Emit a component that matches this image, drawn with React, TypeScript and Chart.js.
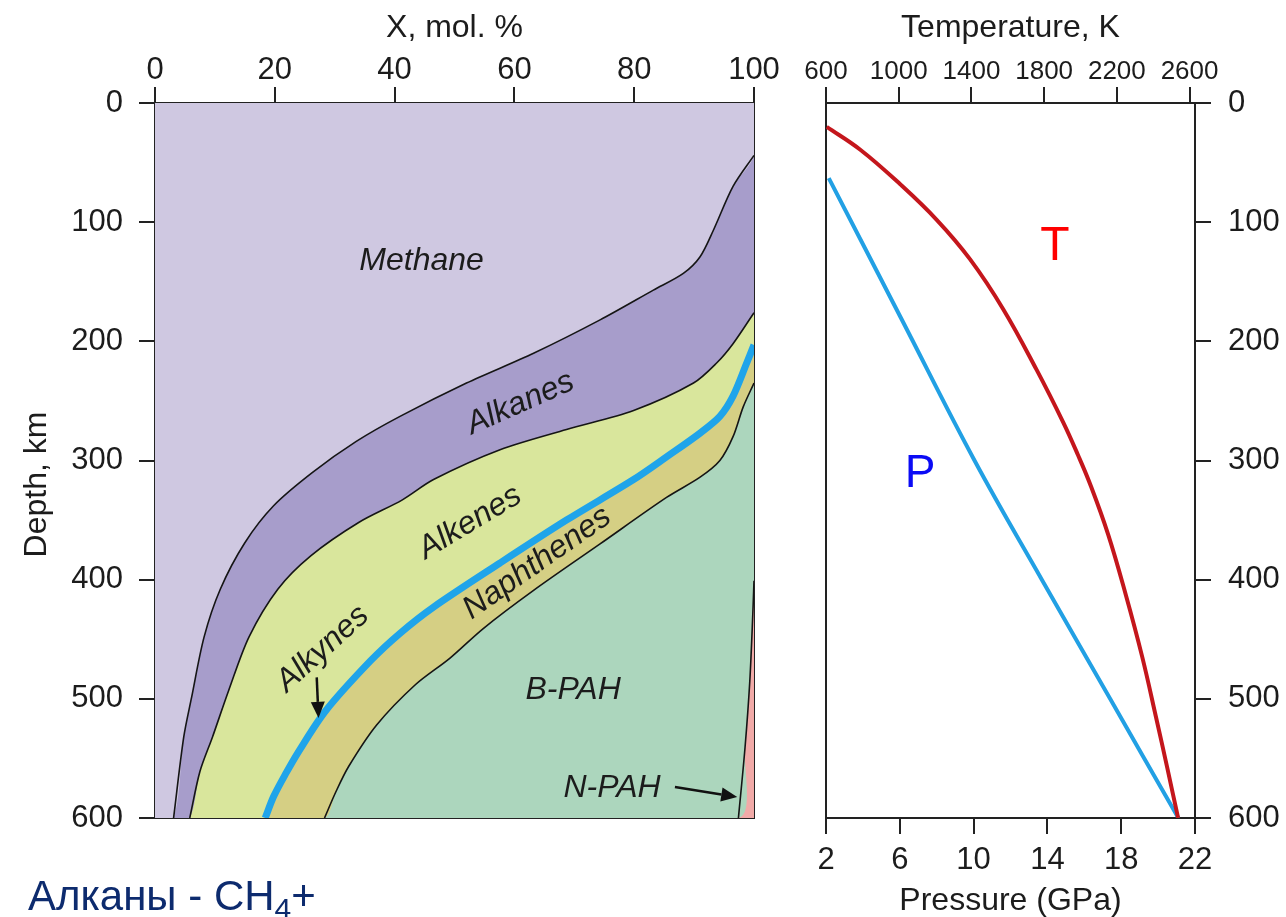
import React, { useEffect, useRef } from "react";
import { Chart, registerables } from "chart.js";

Chart.register(...registerables);

const FONT = '"Liberation Sans", Arial, Helvetica, sans-serif';
const INK = "#1c1c1c";

// ---------------- Left panel: X, mol. % (cumulative) vs depth, km
const molTicks = [0, 20, 40, 60, 80, 100];
const depthTicks = [0, 100, 200, 300, 400, 500, 600];

// boundary Methane | Alkanes
const methaneAlkanesDepth = [44, 70, 107, 129, 143, 157, 182, 210, 235, 263, 284, 310, 338, 369, 408, 448, 499, 532, 600];
const methaneAlkanesX = [100, 96.5, 93.2, 91, 88.2, 83.2, 74.3, 63.2, 52, 40.9, 33.6, 26.3, 19.8, 15, 10.9, 8.2, 6.1, 4.8, 3.1];

// boundary Alkanes | Alkenes
const alkanesAlkenesDepth = [176, 202, 218, 235, 258, 274, 291, 316, 333, 352, 380, 408, 448, 493, 532, 561, 600];
const alkanesAlkenesX = [100, 96.5, 93.8, 89.9, 79.9, 68.7, 57.6, 46.5, 41.3, 34, 26, 20.5, 15.7, 12.3, 9.6, 7.5, 5.8];

// Alkynes (thin band, blue line) between Alkenes and Naphthenes
const alkynesDepth = [203, 218, 246, 263, 277, 297, 316, 350, 386, 423, 445, 468, 510, 544, 563, 582, 600];
const alkynesX = [100, 98.8, 96.5, 94.3, 91, 85.4, 79.9, 68.7, 57.6, 46.5, 40.9, 36, 28.5, 24, 21.8, 19.8, 18.4];

// boundary Naphthenes | B-PAH
const naphthenesBpahDepth = [235, 255, 280, 300, 314, 331, 370, 409, 441, 466, 488, 522, 557, 578, 600];
const naphthenesBpahX = [100, 98.2, 96.5, 94.3, 91, 85.4, 74.3, 63.2, 54.8, 49.2, 43.5, 37, 32.3, 30.2, 28.3];

// boundary B-PAH | N-PAH
const bpahNpahDepth = [401, 429, 485, 541, 600];
const bpahNpahX = [100, 99.8, 99.3, 98.5, 97.4];

const regionColors = {
  methane: "#cfc8e1",
  alkanes: "#a79dcb",
  alkenes: "#d9e69c",
  naphthenes: "#d5cf84",
  bpah: "#acd6bd",
  npah: "#f1aaa8",
};

const regionLabels = [
  { text: "Methane", x: 44.5, d: 133, angle: 0 },
  { text: "Alkanes", x: 61, d: 252, angle: -24 },
  { text: "Alkenes", x: 52.6, d: 352, angle: -31 },
  { text: "Naphthenes", x: 63.8, d: 386, angle: -35 },
  { text: "Alkynes", x: 28, d: 458, angle: -42 },
  { text: "B-PAH", x: 69.8, d: 493, angle: 0 },
  { text: "N-PAH", x: 76.3, d: 575, angle: 0 },
];
const labelArrows = [
  { x1: 27, d1: 482, x2: 27.3, d2: 516 },
  { x1: 86.8, d1: 574, x2: 97.2, d2: 582.4 },
];

// ---------------- Right panel: temperature and pressure vs depth
const temperatureTicks = [600, 1000, 1400, 1800, 2200, 2600];
const pressureTicks = [2, 6, 10, 14, 18, 22];
const temperatureDepth = [20, 39, 68, 98, 131, 173, 224, 268, 295, 321, 362, 412, 465, 515, 559, 600];
const temperatureK = [604, 787, 1007, 1209, 1392, 1575, 1759, 1905, 1985, 2056, 2152, 2248, 2340, 2415, 2479, 2537];
const pressureDepth = [63, 180, 300, 400, 500, 600];
const pressureGPa = [2.15, 6.05, 10.05, 13.7, 17.4, 21.1];

const curveLabels = [
  { text: "T", axis: "xT", v: 1860, d: 121, color: "#ff0000", size: 48 },
  { text: "P", axis: "x", v: 7.1, d: 312, color: "#0b0bf5", size: 46 },
];

// ---------------- helpers
const pts = (xs: number[], ds: number[]) => xs.map((x, i) => ({ x, y: ds[i] }));
const rev = <T,>(a: T[]) => [...a].reverse();

const tickGrid = {
  display: true,
  drawOnChartArea: false,
  drawTicks: true,
  tickLength: 16,
  lineWidth: 2,
  tickWidth: 2,
  tickColor: "#222",
  color: "#222",
};
const frame = { display: true, color: "#222", width: 2 };
const hidden = {
  ticks: { display: false },
  grid: { display: false },
  border: frame,
};
const setTicks = (vals: number[]) => (s: any) => {
  s.ticks = vals.map((v) => ({ value: v }));
};
const plain = (v: any) => String(v);

function drawArrow(ctx: CanvasRenderingContext2D, x1: number, y1: number, x2: number, y2: number) {
  const ang = Math.atan2(y2 - y1, x2 - x1);
  const head = 16;
  const half = 7;
  const bx = x2 - head * Math.cos(ang);
  const by = y2 - head * Math.sin(ang);
  ctx.strokeStyle = "#111";
  ctx.fillStyle = "#111";
  ctx.lineWidth = 2.5;
  ctx.beginPath();
  ctx.moveTo(x1, y1);
  ctx.lineTo(bx, by);
  ctx.stroke();
  ctx.beginPath();
  ctx.moveTo(x2, y2);
  ctx.lineTo(bx + half * Math.sin(ang), by - half * Math.cos(ang));
  ctx.lineTo(bx - half * Math.sin(ang), by + half * Math.cos(ang));
  ctx.closePath();
  ctx.fill();
}

const leftLabelsPlugin = {
  id: "leftLabels",
  afterDatasetsDraw(chart: any) {
    const { ctx, scales } = chart;
    const xs = scales.x;
    const ys = scales.y;
    ctx.save();
    ctx.fillStyle = INK;
    ctx.textAlign = "center";
    ctx.textBaseline = "middle";
    ctx.font = `italic 32px ${FONT}`;
    for (const l of regionLabels) {
      ctx.save();
      ctx.translate(xs.getPixelForValue(l.x), ys.getPixelForValue(l.d));
      ctx.rotate((l.angle * Math.PI) / 180);
      ctx.fillText(l.text, 0, 0);
      ctx.restore();
    }
    for (const a of labelArrows) {
      drawArrow(
        ctx,
        xs.getPixelForValue(a.x1),
        ys.getPixelForValue(a.d1),
        xs.getPixelForValue(a.x2),
        ys.getPixelForValue(a.d2)
      );
    }
    ctx.restore();
  },
};

const rightLabelsPlugin = {
  id: "rightLabels",
  afterDatasetsDraw(chart: any) {
    const { ctx, scales } = chart;
    ctx.save();
    ctx.textAlign = "center";
    ctx.textBaseline = "middle";
    for (const l of curveLabels) {
      ctx.font = `${l.size}px ${FONT}`;
      ctx.fillStyle = l.color;
      ctx.fillText(l.text, scales[l.axis].getPixelForValue(l.v), scales.y.getPixelForValue(l.d));
    }
    ctx.restore();
  },
};

function leftConfig(): any {
  const B1 = pts(methaneAlkanesX, methaneAlkanesDepth);
  const B2 = pts(alkanesAlkenesX, alkanesAlkenesDepth);
  const B3 = pts(alkynesX, alkynesDepth);
  const B4 = pts(naphthenesBpahX, naphthenesBpahDepth);
  const B5 = pts(bpahNpahX, bpahNpahDepth);

  const region = (data: any[], color: string) => ({
    data,
    backgroundColor: color,
    borderWidth: 0,
    fill: "shape",
    pointRadius: 0,
    tension: 0.3,
    order: 10,
  });
  const boundary = (data: any[]) => ({
    data,
    borderColor: "#151515",
    borderWidth: 1.6,
    fill: false,
    pointRadius: 0,
    tension: 0.3,
    order: 5,
  });

  return {
    type: "line",
    data: {
      datasets: [
        region([{ x: 0, y: 0 }, { x: 100, y: 0 }, ...B1, { x: 0, y: 600 }], regionColors.methane),
        region([...B1, ...rev(B2)], regionColors.alkanes),
        region([...B2, ...rev(B3)], regionColors.alkenes),
        region([...B3, ...rev(B4)], regionColors.naphthenes),
        region([...B4, ...rev(B5)], regionColors.bpah),
        region([...B5, { x: 100, y: 600 }], regionColors.npah),
        boundary(B1),
        boundary(B2),
        boundary(B4),
        boundary(B5),
        {
          data: B3,
          borderColor: "#1fa4ea",
          borderWidth: 7,
          fill: false,
          pointRadius: 0,
          tension: 0.3,
          order: 1,
        },
      ],
    },
    options: {
      responsive: false,
      animation: false,
      events: [],
      layout: { padding: 0 },
      plugins: { legend: { display: false }, tooltip: { enabled: false } },
      scales: {
        x: {
          type: "linear",
          position: "top",
          min: 0,
          max: 100,
          afterBuildTicks: setTicks(molTicks),
          ticks: { font: { size: 31 }, color: INK, padding: -2, autoSkip: false, maxRotation: 0, callback: plain },
          grid: tickGrid,
          border: frame,
          title: {
            display: true,
            text: "X, mol. %",
            color: INK,
            font: { size: 32 },
            padding: { top: 9, bottom: 0 },
          },
          afterFit: (s: any) => {
            s.height = 103;
          },
        },
        xb: {
          type: "linear",
          position: "bottom",
          min: 0,
          max: 100,
          ...hidden,
          afterFit: (s: any) => {
            s.height = 99;
          },
        },
        y: {
          type: "linear",
          position: "left",
          reverse: true,
          min: 0,
          max: 600,
          afterBuildTicks: setTicks(depthTicks),
          ticks: { font: { size: 31 }, color: INK, padding: 16, autoSkip: false, callback: plain },
          grid: tickGrid,
          border: frame,
          title: {
            display: true,
            text: "Depth, km\u2002\u2002\u2002",
            color: INK,
            font: { size: 32 },
            padding: { top: 18, bottom: 0 },
          },
          afterFit: (s: any) => {
            s.width = 155;
          },
        },
        yr: {
          type: "linear",
          position: "right",
          min: 0,
          max: 600,
          ...hidden,
          afterFit: (s: any) => {
            s.width = 36;
          },
        },
      },
    },
    plugins: [leftLabelsPlugin],
  };
}

function rightConfig(): any {
  return {
    type: "line",
    data: {
      datasets: [
        {
          data: pts(temperatureK, temperatureDepth),
          xAxisID: "xT",
          yAxisID: "y",
          borderColor: "#c4161c",
          borderWidth: 4,
          fill: false,
          pointRadius: 0,
          tension: 0.4,
        },
        {
          data: pts(pressureGPa, pressureDepth),
          xAxisID: "x",
          yAxisID: "y",
          borderColor: "#22a0e4",
          borderWidth: 4,
          fill: false,
          pointRadius: 0,
          tension: 0.4,
        },
      ],
    },
    options: {
      responsive: false,
      animation: false,
      events: [],
      layout: { padding: { left: 36, right: 0, top: 0, bottom: 0 } },
      plugins: { legend: { display: false }, tooltip: { enabled: false } },
      scales: {
        x: {
          type: "linear",
          position: "bottom",
          min: 2,
          max: 22,
          afterBuildTicks: setTicks(pressureTicks),
          ticks: { font: { size: 31 }, color: INK, padding: 8, autoSkip: false, maxRotation: 0, callback: plain },
          grid: tickGrid,
          border: frame,
          title: {
            display: true,
            text: "Pressure (GPa)",
            color: INK,
            font: { size: 32, lineHeight: 1 },
            padding: { top: 0, bottom: 0 },
          },
          afterFit: (s: any) => {
            s.height = 99;
          },
        },
        xT: {
          type: "linear",
          position: "top",
          min: 600,
          max: 2630,
          afterBuildTicks: setTicks(temperatureTicks),
          ticks: { font: { size: 26 }, color: INK, padding: 0, autoSkip: false, maxRotation: 0, callback: plain },
          grid: tickGrid,
          border: frame,
          title: {
            display: true,
            text: "Temperature, K",
            color: INK,
            font: { size: 32 },
            padding: { top: 9, bottom: 0 },
          },
          afterFit: (s: any) => {
            s.height = 103;
          },
        },
        y: {
          type: "linear",
          position: "right",
          reverse: true,
          min: 0,
          max: 600,
          afterBuildTicks: setTicks(depthTicks),
          ticks: { font: { size: 31 }, color: INK, padding: 17, autoSkip: false, callback: plain },
          grid: tickGrid,
          border: frame,
          afterFit: (s: any) => {
            s.width = 91;
          },
        },
        yL: {
          type: "linear",
          position: "left",
          min: 0,
          max: 600,
          ...hidden,
          afterFit: (s: any) => {
            s.width = 0;
          },
        },
      },
    },
    plugins: [rightLabelsPlugin],
  };
}

export default function App() {
  const leftRef = useRef<HTMLCanvasElement>(null);
  const rightRef = useRef<HTMLCanvasElement>(null);

  useEffect(() => {
    Chart.defaults.font.family = FONT;
    Chart.defaults.color = INK;
    const left = new Chart(leftRef.current as HTMLCanvasElement, leftConfig());
    const right = new Chart(rightRef.current as HTMLCanvasElement, rightConfig());
    return () => {
      left.destroy();
      right.destroy();
    };
  }, []);

  return (
    <div
      style={{
        position: "absolute",
        left: 0,
        top: 0,
        width: 1286,
        height: 917,
        overflow: "hidden",
        background: "#ffffff",
      }}
    >
      <canvas
        ref={leftRef}
        width={790}
        height={917}
        style={{ position: "absolute", left: 0, top: 0, width: 790, height: 917 }}
      />
      <canvas
        ref={rightRef}
        width={496}
        height={917}
        style={{ position: "absolute", left: 790, top: 0, width: 496, height: 917 }}
      />
      <div
        style={{
          position: "absolute",
          left: 28,
          top: 875,
          fontFamily: FONT,
          fontSize: 42,
          lineHeight: "42px",
          color: "#0d2b6e",
          whiteSpace: "nowrap",
        }}
      >
        Алканы - CH
        <span style={{ fontSize: 30, position: "relative", top: 9 }}>4</span>+
      </div>
    </div>
  );
}
